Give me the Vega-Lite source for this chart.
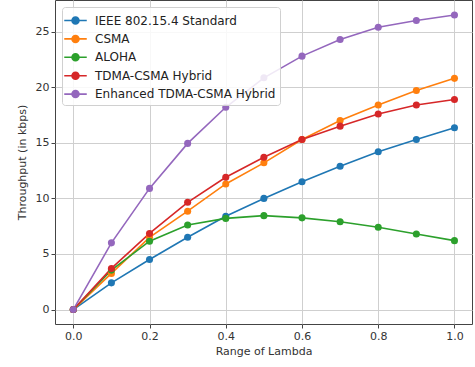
{
  "$schema": "https://vega.github.io/schema/vega-lite/v6.json",
  "width": 417,
  "height": 324,
  "autosize": {"type": "none"},
  "padding": {"left": 55, "top": 0, "right": 3, "bottom": 43},
  "background": "white",
  "config": {
    "font": "DejaVu Sans",
    "view": {"stroke": "#444", "strokeWidth": 1},
    "axis": {
      "grid": true, "gridColor": "#cfcfcf", "gridWidth": 1,
      "domain": false, "tickColor": "#444", "tickSize": 4,
      "labelFontSize": 11, "labelColor": "#333", "titleFontSize": 11,
      "titleFontWeight": "normal", "titleColor": "#333"
    }
  },
  "data": {
    "values": [
      {"x": 0.0, "y": 0, "s": "IEEE 802.15.4 Standard"},
      {"x": 0.1, "y": 2.4, "s": "IEEE 802.15.4 Standard"},
      {"x": 0.2, "y": 4.5, "s": "IEEE 802.15.4 Standard"},
      {"x": 0.3, "y": 6.5, "s": "IEEE 802.15.4 Standard"},
      {"x": 0.4, "y": 8.4, "s": "IEEE 802.15.4 Standard"},
      {"x": 0.5, "y": 10.0, "s": "IEEE 802.15.4 Standard"},
      {"x": 0.6, "y": 11.5, "s": "IEEE 802.15.4 Standard"},
      {"x": 0.7, "y": 12.9, "s": "IEEE 802.15.4 Standard"},
      {"x": 0.8, "y": 14.2, "s": "IEEE 802.15.4 Standard"},
      {"x": 0.9, "y": 15.3, "s": "IEEE 802.15.4 Standard"},
      {"x": 1.0, "y": 16.35, "s": "IEEE 802.15.4 Standard"},
      {"x": 0.0, "y": 0, "s": "CSMA"},
      {"x": 0.1, "y": 3.25, "s": "CSMA"},
      {"x": 0.2, "y": 6.5, "s": "CSMA"},
      {"x": 0.3, "y": 8.85, "s": "CSMA"},
      {"x": 0.4, "y": 11.3, "s": "CSMA"},
      {"x": 0.5, "y": 13.2, "s": "CSMA"},
      {"x": 0.6, "y": 15.3, "s": "CSMA"},
      {"x": 0.7, "y": 17.0, "s": "CSMA"},
      {"x": 0.8, "y": 18.4, "s": "CSMA"},
      {"x": 0.9, "y": 19.7, "s": "CSMA"},
      {"x": 1.0, "y": 20.8, "s": "CSMA"},
      {"x": 0.0, "y": 0, "s": "ALOHA"},
      {"x": 0.1, "y": 3.55, "s": "ALOHA"},
      {"x": 0.2, "y": 6.15, "s": "ALOHA"},
      {"x": 0.3, "y": 7.6, "s": "ALOHA"},
      {"x": 0.4, "y": 8.2, "s": "ALOHA"},
      {"x": 0.5, "y": 8.45, "s": "ALOHA"},
      {"x": 0.6, "y": 8.25, "s": "ALOHA"},
      {"x": 0.7, "y": 7.9, "s": "ALOHA"},
      {"x": 0.8, "y": 7.4, "s": "ALOHA"},
      {"x": 0.9, "y": 6.8, "s": "ALOHA"},
      {"x": 1.0, "y": 6.2, "s": "ALOHA"},
      {"x": 0.0, "y": 0, "s": "TDMA-CSMA Hybrid"},
      {"x": 0.1, "y": 3.7, "s": "TDMA-CSMA Hybrid"},
      {"x": 0.2, "y": 6.85, "s": "TDMA-CSMA Hybrid"},
      {"x": 0.3, "y": 9.65, "s": "TDMA-CSMA Hybrid"},
      {"x": 0.4, "y": 11.9, "s": "TDMA-CSMA Hybrid"},
      {"x": 0.5, "y": 13.7, "s": "TDMA-CSMA Hybrid"},
      {"x": 0.6, "y": 15.3, "s": "TDMA-CSMA Hybrid"},
      {"x": 0.7, "y": 16.5, "s": "TDMA-CSMA Hybrid"},
      {"x": 0.8, "y": 17.6, "s": "TDMA-CSMA Hybrid"},
      {"x": 0.9, "y": 18.4, "s": "TDMA-CSMA Hybrid"},
      {"x": 1.0, "y": 18.9, "s": "TDMA-CSMA Hybrid"},
      {"x": 0.0, "y": 0, "s": "Enhanced TDMA-CSMA Hybrid"},
      {"x": 0.1, "y": 6.0, "s": "Enhanced TDMA-CSMA Hybrid"},
      {"x": 0.2, "y": 10.9, "s": "Enhanced TDMA-CSMA Hybrid"},
      {"x": 0.3, "y": 14.95, "s": "Enhanced TDMA-CSMA Hybrid"},
      {"x": 0.4, "y": 18.2, "s": "Enhanced TDMA-CSMA Hybrid"},
      {"x": 0.5, "y": 20.85, "s": "Enhanced TDMA-CSMA Hybrid"},
      {"x": 0.6, "y": 22.8, "s": "Enhanced TDMA-CSMA Hybrid"},
      {"x": 0.7, "y": 24.3, "s": "Enhanced TDMA-CSMA Hybrid"},
      {"x": 0.8, "y": 25.4, "s": "Enhanced TDMA-CSMA Hybrid"},
      {"x": 0.9, "y": 26.0, "s": "Enhanced TDMA-CSMA Hybrid"},
      {"x": 1.0, "y": 26.5, "s": "Enhanced TDMA-CSMA Hybrid"}
    ]
  },
  "encoding": {
    "x": {
      "field": "x", "type": "quantitative", "title": "Range of Lambda",
      "scale": {"domain": [-0.048, 1.046], "nice": false, "zero": false},
      "axis": {"values": [0, 0.2, 0.4, 0.6, 0.8, 1.0], "format": ".1f", "titlePadding": 4}
    },
    "y": {
      "field": "y", "type": "quantitative", "title": "Throughput (in kbps)",
      "scale": {"domain": [-1.3, 27.85], "nice": false, "zero": false},
      "axis": {"values": [0, 5, 10, 15, 20, 25], "titlePadding": 8}
    },
    "color": {
      "field": "s", "type": "nominal", "title": null,
      "sort": ["IEEE 802.15.4 Standard", "CSMA", "ALOHA", "TDMA-CSMA Hybrid", "Enhanced TDMA-CSMA Hybrid"],
      "scale": {
        "domain": ["IEEE 802.15.4 Standard", "CSMA", "ALOHA", "TDMA-CSMA Hybrid", "Enhanced TDMA-CSMA Hybrid"],
        "range": ["#1f77b4", "#ff7f0e", "#2ca02c", "#d62728", "#9467bd"]
      },
      "legend": {
        "orient": "top-left", "offset": 7,
        "fillColor": "rgba(255,255,255,0.85)", "strokeColor": "#d0d0d0",
        "cornerRadius": 3, "padding": 4,
        "labelFontSize": 12, "labelColor": "#222", "labelLimit": 400,
        "rowPadding": 1.4, "symbolSize": 300, "symbolStrokeWidth": 1.6,
        "symbolType": "M -1.3 0 L -0.4 0 M 0.4 0 L 1.3 0 M 0.4 0 A 0.4 0.4 0 1 1 -0.4 0 A 0.4 0.4 0 1 1 0.4 0 Z",
        "labelOffset": 10
      }
    }
  },
  "layer": [
    {"mark": {"type": "line", "strokeWidth": 1.6}},
    {"mark": {"type": "point", "filled": true, "opacity": 1, "size": 50}}
  ]
}
